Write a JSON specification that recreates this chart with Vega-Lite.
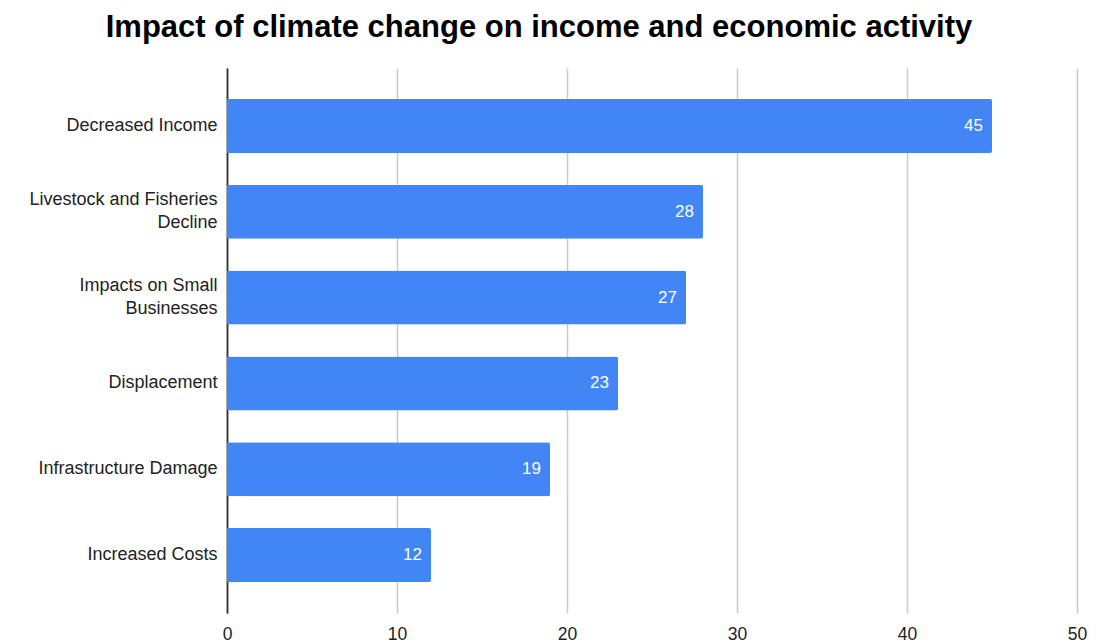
{
  "$schema": "https://vega.github.io/schema/vega-lite/v6.json",
  "width": 850,
  "height": 545,
  "autosize": {"type": "none"},
  "padding": {"left": 227, "top": 68, "right": 20, "bottom": 31},
  "background": "white",
  "title": {
    "text": "Impact of climate change on income and economic activity",
    "font": "Liberation Sans",
    "fontSize": 31,
    "fontWeight": "bold",
    "color": "#000000",
    "anchor": "middle",
    "frame": "group",
    "dx": -113,
    "offset": 24
  },
  "config": {"view": {"stroke": null}},
  "data": {
    "values": [
      {"category": "Decreased Income", "value": 45},
      {"category": "Livestock and Fisheries Decline", "value": 28},
      {"category": "Impacts on Small Businesses", "value": 27},
      {"category": "Displacement", "value": 23},
      {"category": "Infrastructure Damage", "value": 19},
      {"category": "Increased Costs", "value": 12}
    ]
  },
  "encoding": {
    "y": {
      "field": "category",
      "type": "nominal",
      "sort": null,
      "scale": {"paddingInner": 0.37, "paddingOuter": 0.36},
      "axis": {
        "title": null,
        "domain": true,
        "domainColor": "#333333",
        "domainWidth": 1.5,
        "ticks": false,
        "labelPadding": 10,
        "labelFont": "Liberation Sans",
        "labelFontSize": 18,
        "labelColor": "#222222",
        "labelLineHeight": 23,
        "labelLimit": 300,
        "labelOffset": {"condition": {"test": "datum.value == 'Livestock and Fisheries Decline' || datum.value == 'Impacts on Small Businesses'", "value": -11.5}, "value": 0},
        "labelExpr": "datum.value == 'Livestock and Fisheries Decline' ? ['Livestock and Fisheries', 'Decline'] : datum.value == 'Impacts on Small Businesses' ? ['Impacts on Small', 'Businesses'] : datum.value"
      }
    },
    "x": {
      "field": "value",
      "type": "quantitative",
      "scale": {"domain": [0, 50], "nice": false},
      "axis": {
        "title": null,
        "domain": false,
        "ticks": false,
        "grid": true,
        "values": [0, 10, 20, 30, 40, 50],
        "labelOverlap": false,
        "labelFlush": false,
        "labelBound": false,
        "gridColor": {"condition": {"test": "datum.value == 0", "value": "#333333"}, "value": "#cccccc"},
        "gridWidth": 1.5,
        "labelPadding": 12,
        "labelFont": "Liberation Sans",
        "labelFontSize": 17.5,
        "labelColor": "#222222"
      }
    }
  },
  "layer": [
    {
      "mark": {"type": "bar", "color": "#4285F4", "cornerRadiusTopRight": 2, "cornerRadiusBottomRight": 2}
    },
    {
      "mark": {"type": "text", "align": "right", "dx": -9, "color": "white", "font": "Liberation Sans", "fontSize": 17, "baseline": "middle"},
      "encoding": {"text": {"field": "value", "type": "quantitative"}}
    }
  ]
}
